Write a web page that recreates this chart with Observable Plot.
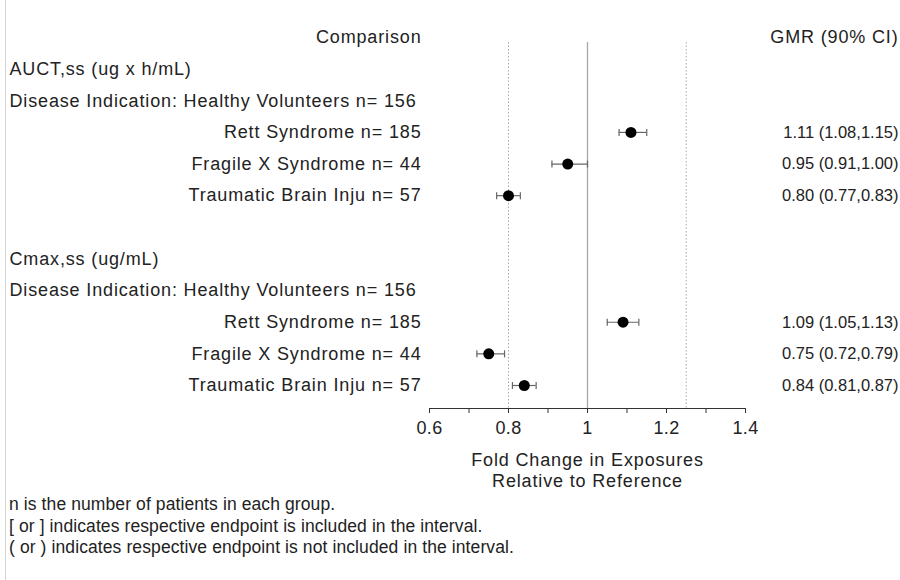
<!DOCTYPE html>
<html>
<head>
<meta charset="utf-8">
<script src="https://cdn.jsdelivr.net/npm/d3@7"></script>
<script src="https://cdn.jsdelivr.net/npm/@observablehq/plot@0.6"></script>
<style>
  body { margin: 0; background: #fff; }
  #wrap { position: relative; width: 900px; height: 580px; font-family: "Liberation Sans", Arial, sans-serif; color: #222; background: #fff; }
  #wrap::before { content: ""; position: absolute; left: 5px; top: 0; bottom: 0; border-left: 1px solid #d4d4d4; }
  #notes { position: absolute; left: 9px; top: 494px; font-size: 17.5px; line-height: 21.7px; color: #222; letter-spacing: 0.1px; }
</style>
</head>
<body>
<div id="wrap">
  <div id="chart"></div>
  <div id="notes"></div>
</div>
<script>
// ---- data ----
const parameters = ["AUCT,ss (ug x h/mL)", "Cmax,ss (ug/mL)"];
const referenceLabel = "Disease Indication: Healthy Volunteers n= 156";
const groups = ["Rett Syndrome n= 185", "Fragile X Syndrome n= 44", "Traumatic Brain Inju n= 57"];
const aucGmr = [1.11, 0.95, 0.80];
const aucLower = [1.08, 0.91, 0.77];
const aucUpper = [1.15, 1.00, 0.83];
const cmaxGmr = [1.09, 0.75, 0.84];
const cmaxLower = [1.05, 0.72, 0.81];
const cmaxUpper = [1.13, 0.79, 0.87];
const referenceLines = [0.8, 1.25];
const unityLine = [1];
const xTicks = [0.6, 0.7, 0.8, 0.9, 1.0, 1.1, 1.2, 1.3, 1.4];
const xTickLabels = ["0.6", "", "0.8", "", "1", "", "1.2", "", "1.4"];
const leftHeader = "Comparison";
const rightHeader = "GMR (90% CI)";
const axisTitle = "Fold Change in Exposures\nRelative to Reference";
const footnotes = [
  "n is the number of patients in each group.",
  "[ or ] indicates respective endpoint is included in the interval.",
  "( or ) indicates respective endpoint is not included in the interval."
];

// ---- build rows ----
const rows = [];
const points = [];
rows.push({key: "header", kind: "header"});
const series = [
  {gmr: aucGmr, lo: aucLower, hi: aucUpper},
  {gmr: cmaxGmr, lo: cmaxLower, hi: cmaxUpper}
];
parameters.forEach((p, pi) => {
  if (pi > 0) rows.push({key: "blank" + pi, kind: "blank", label: ""});
  rows.push({key: "param" + pi, kind: "param", label: p});
  rows.push({key: "ref" + pi, kind: "param", label: referenceLabel});
  groups.forEach((g, gi) => {
    const key = "g" + pi + "_" + gi;
    rows.push({key, kind: "group", label: g});
    const s = series[pi];
    points.push({
      key, gmr: s.gmr[gi], lo: s.lo[gi], hi: s.hi[gi],
      text: `${s.gmr[gi].toFixed(2)} (${s.lo[gi].toFixed(2)},${s.hi[gi].toFixed(2)})`
    });
  });
});
const rowKeys = rows.map(r => r.key);
const fmt = d => { const i = xTicks.findIndex(t => Math.abs(t - d) < 1e-9); return i < 0 ? "" : xTickLabels[i]; };

// vertical-bar symbol for whisker caps
const capSymbol = {
  draw(context, size) {
    const h = Math.sqrt(size / Math.PI);
    context.moveTo(0, -h);
    context.lineTo(0, h);
  }
};

const font = "Liberation Sans, Arial, sans-serif";
const chart = Plot.plot({
  width: 900,
  height: 490,
  marginLeft: 429,
  marginRight: 155,
  marginTop: 37,
  marginBottom: 82,
  style: {fontFamily: font, fontSize: "18px", color: "#222", background: "white", overflow: "visible", letterSpacing: "0.85px"},
  x: {domain: [0.6, 1.4]},
  y: {type: "point", domain: rowKeys, padding: 0, round: false, insetBottom: 23, axis: null},
  marks: [
    Plot.ruleX(referenceLines, {x: d => d, stroke: "#a8a8a8", strokeWidth: 1, strokeDasharray: "1.5,2", insetTop: 5}),
    Plot.ruleX(unityLine, {x: d => d, stroke: "#a8a8a8", strokeWidth: 1.3, insetTop: 5}),
    Plot.frame({anchor: "bottom", stroke: "#333"}),
    Plot.axisX({ticks: xTicks, tickSize: 5, tickPadding: 8, tickFormat: fmt, label: null, fontSize: 18, stroke: "#333", fill: "#222"}),
    Plot.text([axisTitle], {frameAnchor: "bottom", lineAnchor: "top", dy: 42, lineHeight: 1.2, fontSize: 18, fill: "#222"}),
    Plot.ruleY(points, {y: "key", x1: "lo", x2: "hi", stroke: "#666", strokeWidth: 1.2}),
    Plot.dot(points, {x: "lo", y: "key", r: 3.5, symbol: capSymbol, stroke: "#666", strokeWidth: 1.2, fill: "none"}),
    Plot.dot(points, {x: "hi", y: "key", r: 3.5, symbol: capSymbol, stroke: "#666", strokeWidth: 1.2, fill: "none"}),
    Plot.dot(points, {x: "gmr", y: "key", r: 5.5, fill: "black", stroke: "none"}),
    Plot.text([leftHeader], {y: () => "header", frameAnchor: "left", textAnchor: "end", dx: -8, fontSize: 18, fill: "#222"}),
    Plot.text([rightHeader], {y: () => "header", frameAnchor: "right", textAnchor: "end", dx: 153, fontSize: 18, fill: "#222"}),
    Plot.text(rows.filter(r => r.kind === "param"), {y: "key", text: "label", frameAnchor: "left", textAnchor: "start", dx: -420, fontSize: 18, fill: "#222"}),
    Plot.text(rows.filter(r => r.kind === "group"), {y: "key", text: "label", frameAnchor: "left", textAnchor: "end", dx: -8, fontSize: 18, fill: "#222"}),
    Plot.text(points, {y: "key", text: "text", frameAnchor: "right", textAnchor: "end", dx: 153, fontSize: 16.5, fill: "#222"})
  ]
});
// numeric texts use tighter spacing than the word labels
const gmrTexts = new Set(points.map(p => p.text));
d3.select(chart).selectAll("text").each(function () {
  const t = this.textContent;
  if (gmrTexts.has(t)) this.style.letterSpacing = "0px";
  else if (xTickLabels.includes(t)) this.style.letterSpacing = "0.4px";
});
document.getElementById("chart").appendChild(chart);
document.getElementById("notes").innerHTML = footnotes.map(t => `<div>${t}</div>`).join("");
</script>
</body>
</html>
